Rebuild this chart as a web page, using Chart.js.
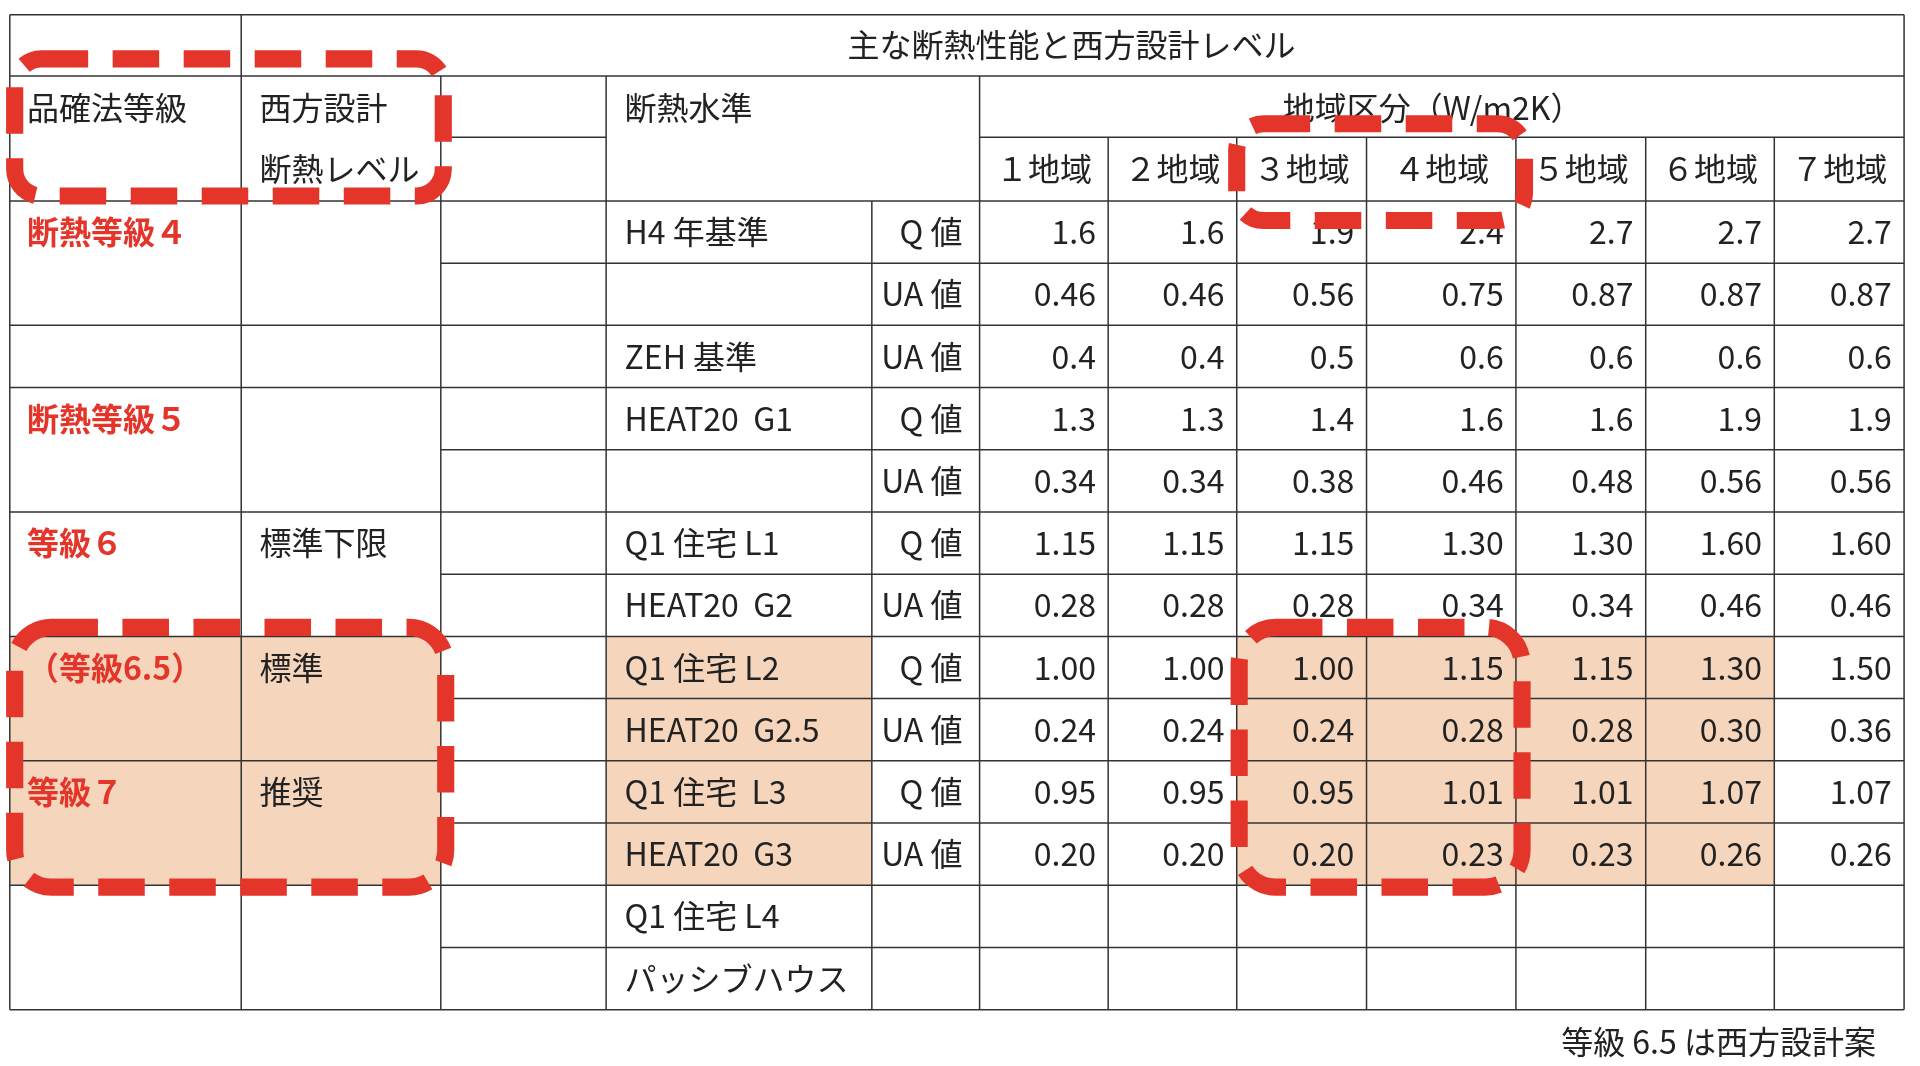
<!DOCTYPE html>
<html><head><meta charset="utf-8">
<script src="https://cdn.jsdelivr.net/npm/chart.js@4/dist/chart.umd.min.js"></script>
<style>html,body{margin:0;background:#fff}#c{display:block}</style>
</head><body>
<canvas id="c" width="1920" height="1066"></canvas>
<script>
// table contents
const title = '主な断熱性能と西方設計レベル';
const zones = ['１地域', '２地域', '３地域', '４地域', '５地域', '６地域', '７地域'];
const gradeLabels = ['断熱等級４', '', '', '断熱等級５', '', '等級６', '', '（等級6.5）', '', '等級７', '', '', ''];
const nishikata = ['', '', '', '', '', '標準下限', '', '標準', '', '推奨', '', '', ''];
const standards = ['H4 年基準', '', 'ZEH 基準', 'HEAT20  G1', '', 'Q1 住宅 L1', 'HEAT20  G2', 'Q1 住宅 L2', 'HEAT20  G2.5', 'Q1 住宅  L3', 'HEAT20  G3', 'Q1 住宅 L4', 'パッシブハウス'];
const kinds = ['Q 値', 'UA 値', 'UA 値', 'Q 値', 'UA 値', 'Q 値', 'UA 値', 'Q 値', 'UA 値', 'Q 値', 'UA 値', '', ''];
const values = [
  ['1.6', '1.6', '1.9', '2.4', '2.7', '2.7', '2.7'],
  ['0.46', '0.46', '0.56', '0.75', '0.87', '0.87', '0.87'],
  ['0.4', '0.4', '0.5', '0.6', '0.6', '0.6', '0.6'],
  ['1.3', '1.3', '1.4', '1.6', '1.6', '1.9', '1.9'],
  ['0.34', '0.34', '0.38', '0.46', '0.48', '0.56', '0.56'],
  ['1.15', '1.15', '1.15', '1.30', '1.30', '1.60', '1.60'],
  ['0.28', '0.28', '0.28', '0.34', '0.34', '0.46', '0.46'],
  ['1.00', '1.00', '1.00', '1.15', '1.15', '1.30', '1.50'],
  ['0.24', '0.24', '0.24', '0.28', '0.28', '0.30', '0.36'],
  ['0.95', '0.95', '0.95', '1.01', '1.01', '1.07', '1.07'],
  ['0.20', '0.20', '0.20', '0.23', '0.23', '0.26', '0.26'],
  ['', '', '', '', '', '', ''],
  ['', '', '', '', '', '', '']
];
const groupStarts = [0, 2, 3, 5, 7, 9, 11];
const shadedZones = [2, 3, 4, 5];
const note = '等級 6.5 は西方設計案';

// layout in reference units
const colX = [8, 197, 360, 495, 712, 800, 905, 1010, 1116, 1238, 1344, 1449, 1555];
const tableTop = 12, h1 = 62, h2 = 112, bodyTop = 164, bottom = 824;
const rowH = (bottom - bodyTop) / values.length;
const FONT = '"Noto Sans CJK JP", "Noto Sans", sans-serif';
const RED = '#e4352a';

const tablePlugin = {
  id: 'table',
  afterDraw(chart) {
    const ctx = chart.ctx, sx = chart.scales.x, sy = chart.scales.y;
    const X = v => sx.getPixelForValue(v), Y = v => sy.getPixelForValue(v);
    const k = X(1) - X(0);
    const rowY = i => bodyTop + i * rowH;
    ctx.save();
    // shading
    ctx.fillStyle = '#f5d6bd';
    const fillR = (x0, x1, y0, y1) => ctx.fillRect(X(x0), Y(y0), X(x1) - X(x0), Y(y1) - Y(y0));
    fillR(colX[0], colX[2], rowY(7), rowY(11));
    fillR(colX[3], colX[4], rowY(7), rowY(11));
    fillR(colX[5 + shadedZones[0]], colX[5 + shadedZones[shadedZones.length - 1] + 1], rowY(7), rowY(11));
    // grid
    ctx.strokeStyle = '#333'; ctx.lineWidth = 1.5;
    const line = (x0, y0, x1, y1) => { ctx.beginPath(); ctx.moveTo(X(x0), Y(y0)); ctx.lineTo(X(x1), Y(y1)); ctx.stroke(); };
    line(colX[0], tableTop, colX[12], tableTop);
    line(colX[0], h1, colX[12], h1);
    line(colX[2], h2, colX[3], h2);
    line(colX[5], h2, colX[12], h2);
    for (let i = 0; i <= values.length; i++) {
      const y = rowY(i);
      const full = i === 0 || i === values.length || groupStarts.includes(i);
      line(full ? colX[0] : colX[2], y, colX[12], y);
    }
    line(colX[0], tableTop, colX[0], bottom);
    line(colX[1], tableTop, colX[1], bottom);
    line(colX[12], tableTop, colX[12], bottom);
    line(colX[2], h1, colX[2], bottom);
    line(colX[3], h1, colX[3], bottom);
    line(colX[5], h1, colX[5], bottom);
    line(colX[4], bodyTop, colX[4], bottom);
    for (let c = 6; c < 12; c++) line(colX[c], h2, colX[c], bottom);
    // text
    ctx.textBaseline = 'middle';
    const txt = (s, x, y, align, color, bold) => {
      ctx.font = (bold ? 'bold ' : '') + Math.round(26 * k) + 'px ' + FONT;
      ctx.fillStyle = color || '#222'; ctx.textAlign = align || 'left';
      ctx.fillText(s, X(x), Y(y));
    };
    txt(title, 875, 37, 'center');
    txt('品確法等級', 22, 88);
    txt('西方設計', 212, 88);
    txt('断熱レベル', 212, 138);
    txt('断熱水準', 510, 88);
    txt('地域区分（W/m2K）', 1170, 88, 'center');
    zones.forEach((z, i) => txt(z, (colX[5 + i] + colX[6 + i]) / 2, 138, 'center'));
    values.forEach((row, i) => {
      const yc = rowY(i) + rowH / 2;
      if (gradeLabels[i]) txt(gradeLabels[i], 22, yc, 'left', RED, true);
      if (nishikata[i]) txt(nishikata[i], 212, yc);
      if (standards[i]) txt(standards[i], 510, yc);
      if (kinds[i]) txt(kinds[i], 786, yc, 'right');
      row.forEach((v, j) => { if (v) txt(v, colX[6 + j] - 10, yc, 'right'); });
    });
    txt(note, 1532, 850, 'right');
    // red dashed highlight boxes
    ctx.strokeStyle = RED; ctx.lineWidth = 14 * k; ctx.setLineDash([38 * k, 20 * k]);
    const box = (x0, y0, x1, y1, r) => {
      ctx.beginPath(); ctx.roundRect(X(x0), Y(y0), X(x1) - X(x0), Y(y1) - Y(y0), r * k); ctx.stroke();
    };
    box(12, 48, 362, 160, 22);
    box(1010, 101, 1245, 180, 22);
    box(12, 512, 364, 724, 30);
    box(1012, 512, 1243, 724, 30);
    ctx.restore();
  }
};

new Chart(document.getElementById('c'), {
  type: 'scatter',
  data: { datasets: [{ data: [], pointRadius: 0 }] },
  options: {
    responsive: false, animation: false,
    layout: { padding: 0 },
    plugins: { legend: { display: false }, tooltip: { enabled: false } },
    scales: {
      x: { type: 'linear', min: 0, max: 1568, display: false },
      y: { type: 'linear', min: 0, max: 870, reverse: true, display: false }
    }
  },
  plugins: [tablePlugin]
});
</script>
</body></html>
